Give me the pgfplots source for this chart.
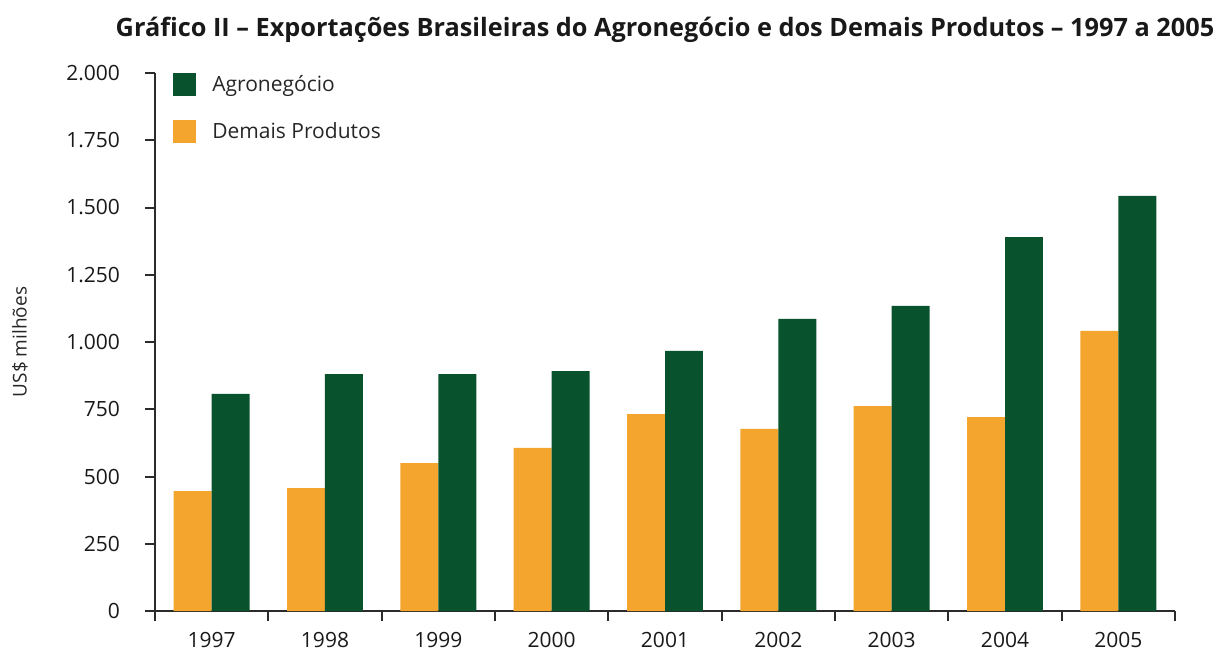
\documentclass[border=0pt]{standalone}
\usepackage{fontspec}
\setmainfont{Open Sans}
\usepackage{pgfplots}
\pgfplotsset{compat=1.18}
\definecolor{agro}{HTML}{08532E}
\definecolor{demais}{HTML}{F4A52D}
\definecolor{axc}{HTML}{2B2B2B}
\pgfplotsset{sqlegend/.style={legend image code/.code={\fill[##1] (0pt,-5.75pt) rectangle (11.5pt,5.75pt);}}}
\begin{document}
\begin{tikzpicture}
\begin{axis}[
  name=ax,
  scale only axis, width=510pt, height=269pt,
  xmin=-0.5, xmax=8.5, ymin=0, ymax=2000,
  axis lines*=left,
  axis line style={axc, line width=1pt},
  every tick/.style={axc, line width=1pt},
  tick align=outside,
  major tick length=5pt,
  xtick={-0.5,0.5,...,8.5},
  xticklabels={},
  extra x ticks={0,1,2,3,4,5,6,7,8},
  extra x tick labels={1997,1998,1999,2000,2001,2002,2003,2004,2005},
  extra x tick style={major tick length=0pt, xticklabel style={yshift=-7pt}},
  ytick={0,250,...,2000},
  yticklabel style={xshift=-9pt},
  ticklabel style={font=\fontsize{10.5}{12}\selectfont, text=black!90},
  /pgf/number format/.cd, 1000 sep={.}, assume math mode=true, /pgfplots/.cd,
  ybar, bar width=0.335,
  ylabel={US\$ milhões},
  ylabel style={at={(rel axis cs:0,0.5)}, anchor=center, yshift=67.5pt, font=\fontsize{9.5}{11}\selectfont, text=black!85},
  title={Gráfico II – Exportações Brasileiras do Agronegócio e dos Demais Produtos – 1997 a 2005},
  title style={at={(0.5,1)}, anchor=base, yshift=12.5pt, font=\bfseries\fontsize{12.65}{14}\selectfont, text=black!90},
  legend style={at={(rel axis cs:0.0176,1)}, anchor=north west, draw=none, fill=none, inner sep=0pt, row sep=12pt, column sep=8pt,
     font=\fontsize{10.5}{12}\selectfont, text=black!85, legend cell align=left,
     nodes={inner sep=0pt}},
  reverse legend,
  sqlegend,
]
\addplot[fill=demais, draw=none, bar shift=-0.1675] coordinates {
(0,446) (1,457) (2,550) (3,606) (4,732) (5,677) (6,762) (7,721) (8,1041)};
\addlegendentry{Demais Produtos}
\addplot[fill=agro, draw=none, bar shift=0.1675] coordinates {
(0,807) (1,881) (2,881) (3,892) (4,967) (5,1086) (6,1134) (7,1390) (8,1543)};
\addlegendentry{Agronegócio}
\end{axis}
\pgfresetboundingbox
\path[use as bounding box] ([shift={(-77.5pt,-19.5pt)}]ax.south west) rectangle ([shift={(533pt,305.5pt)}]ax.south west);
\end{tikzpicture}
\end{document}
